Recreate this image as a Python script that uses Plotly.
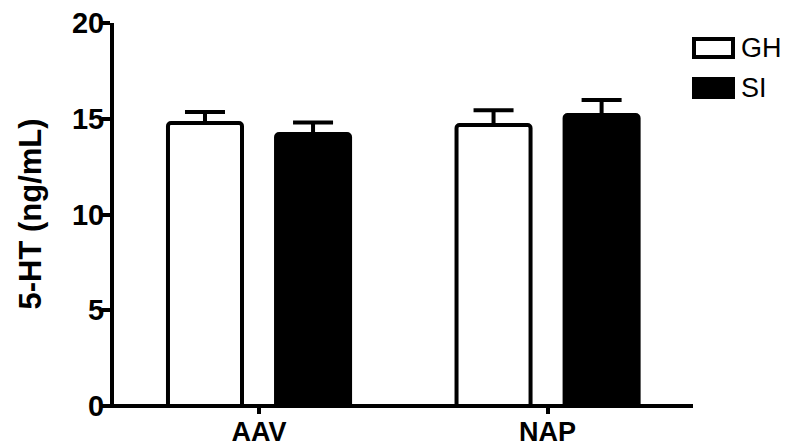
import plotly.graph_objects as go

categories = ["AAV", "NAP"]
gh_values = [14.78, 14.67]
gh_err = [0.57, 0.78]
si_values = [14.2, 15.2]
si_err = [0.6, 0.78]
series_names = ["GH", "SI"]
y_ticks = [0, 5, 10, 15, 20]

FONT = "Liberation Sans, Arial, sans-serif"

L, R, T, B = 114, 110, 23, 42
W, H = 803, 448
PW, PH = W - L - R, H - T - B

fig = go.Figure()
fig.add_trace(go.Bar(
    x=categories, y=gh_values, name=series_names[0],
    marker=dict(color="white", line=dict(color="black", width=4), cornerradius=3),
    error_y=dict(type="data", array=gh_err, arrayminus=[0, 0], symmetric=False,
                 color="black", thickness=4, width=20),
    showlegend=False,
))
fig.add_trace(go.Bar(
    x=categories, y=si_values, name=series_names[1],
    marker=dict(color="black", line=dict(color="black", width=4), cornerradius=3),
    error_y=dict(type="data", array=si_err, arrayminus=[0, 0], symmetric=False,
                 color="black", thickness=4, width=20),
    showlegend=False,
))

fig.update_layout(
    width=W, height=H,
    margin=dict(l=L, r=R, t=T, b=B),
    paper_bgcolor="white", plot_bgcolor="white",
    barmode="group", bargap=0.251, bargroupgap=0.315,
    font=dict(family=FONT, color="black"),
    xaxis=dict(
        range=[-0.5026, 1.504], showline=False, ticks="outside", ticklen=7,
        tickwidth=4, tickcolor="black", showgrid=False, zeroline=False,
        automargin=False, ticklabelstandoff=-5,
        tickfont=dict(family=FONT, size=27, color="black", weight="bold"),
    ),
    yaxis=dict(
        range=[0, 20], tickvals=y_ticks, showline=True, linewidth=4, linecolor="black",
        ticks="outside", ticklen=8, tickwidth=4, tickcolor="black",
        showgrid=False, zeroline=False, automargin=False, ticklabelstandoff=-8,
        tickfont=dict(family=FONT, size=29, color="black", weight="bold"),
    ),
)

# y-axis title
fig.add_annotation(xref="paper", yref="paper", x=(30 - L) / PW, y=0.5,
                   text="5-HT (ng/mL)", textangle=-90, showarrow=False,
                   xanchor="center", yanchor="middle",
                   font=dict(family=FONT, size=31, color="black", weight="bold"))

# x-axis baseline extending slightly left of the y axis (GraphPad style)
fig.add_shape(type="line", xref="paper", yref="paper", x0=(103 - L) / PW, x1=1.0,
              y0=0, y1=0, line=dict(color="black", width=4))

# manual legend
legend_fill = ["white", "black"]
for i, (nm, fc) in enumerate(zip(series_names, legend_fill)):
    top = 39 + i * 40
    fig.add_shape(type="rect", xref="paper", yref="paper",
                  x0=(694 - L) / PW, x1=(733 - L) / PW,
                  y0=(H - B - (top + 18)) / PH, y1=(H - B - top) / PH,
                  line=dict(color="black", width=4), fillcolor=fc)
    fig.add_annotation(xref="paper", yref="paper", x=(739 - L) / PW,
                       y=(H - B - (top + 9)) / PH, text=nm, showarrow=False,
                       xanchor="left", yanchor="middle",
                       font=dict(family=FONT, size=27, color="black"))

fig.write_html(
    "out.html",
    config={"displayModeBar": False},
    post_script="document.body.style.margin='0';document.body.style.overflow='hidden';",
)
